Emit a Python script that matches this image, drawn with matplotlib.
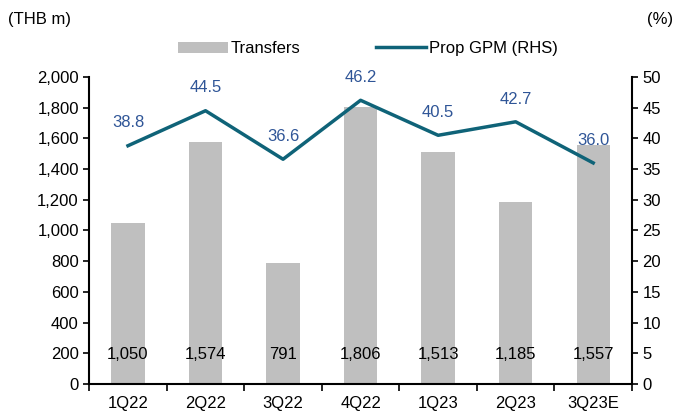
import matplotlib.pyplot as plt
import numpy as np

plt.rcParams["font.family"] = ["Liberation Sans", "DejaVu Sans"]
plt.rcParams["font.size"] = 12

# Дані графіка
quarters = ["1Q22", "2Q22", "3Q22", "4Q22", "1Q23", "2Q23", "3Q23E"]
transfers = [1050, 1574, 791, 1806, 1513, 1185, 1557]
prop_gpm = [38.8, 44.5, 36.6, 46.2, 40.5, 42.7, 36.0]

bar_color = "#BFBFBF"
line_color = "#0F6378"
label_blue = "#2F5597"

fig = plt.figure(figsize=(6.81, 4.16), dpi=100)
ax = fig.add_axes([0.131, 0.077, 0.797, 0.738])
ax2 = ax.twinx()

x = np.arange(len(quarters))
bars = ax.bar(x, transfers, width=0.43, color=bar_color, label="Transfers", zorder=1)
for xi, v in zip(x, transfers):
    ax.text(xi, 190, f"{v:,}", ha="center", va="center")

line, = ax2.plot(x, prop_gpm, color=line_color, linewidth=2.5, label="Prop GPM (RHS)")
for xi, v in zip(x, prop_gpm):
    ax2.annotate(f"{v:.1f}", (xi, v), xytext=(0, 11), textcoords="offset points",
                 ha="center", va="bottom", color=label_blue)

ax.set_xlim(-0.5, len(quarters) - 0.5)
ax.set_ylim(0, 2000)
ax.set_yticks(range(0, 2001, 200))
ax.set_yticklabels([f"{t:,}" for t in range(0, 2001, 200)])
ax2.set_ylim(0, 50)
ax2.set_yticks(range(0, 51, 5))

ax.set_xticks(x)
ax.set_xticklabels(quarters)
ax.set_xticks(np.arange(-0.5, len(quarters), 1), minor=True)
ax.tick_params(axis="x", which="major", length=0, pad=9)
ax.tick_params(axis="x", which="minor", length=5, direction="out", width=1.2)
ax.tick_params(axis="y", length=4, direction="out", width=1.2)
ax2.tick_params(axis="y", length=4, direction="out", width=1.2)

for a in (ax, ax2):
    a.spines["top"].set_visible(False)
    for s in ("left", "right", "bottom"):
        a.spines[s].set_linewidth(1.5)
ax.spines["right"].set_visible(False)
ax2.spines["left"].set_visible(False)
ax2.spines["bottom"].set_visible(False)

fig.text(0.012, 0.952, "(THB m)", ha="left", va="center")
fig.text(0.988, 0.952, "(%)", ha="right", va="center")

fig.legend([bars, line], ["Transfers", "Prop GPM (RHS)"], loc="center",
           bbox_to_anchor=(0.54, 0.883), ncol=2, frameon=False,
           handlelength=3.0, handletextpad=0.2, columnspacing=4.5)

fig.savefig("out.png", dpi=100)
